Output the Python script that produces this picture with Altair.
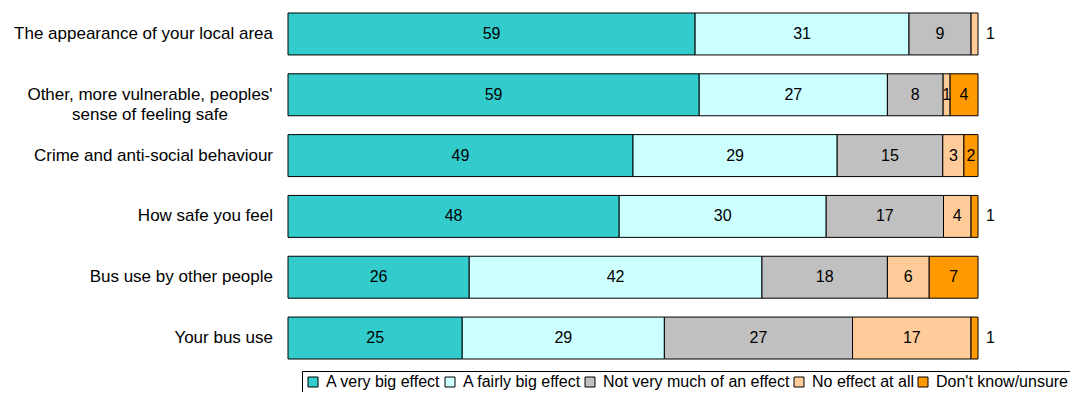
import altair as alt
import pandas as pd

categories = [
    "The appearance of your local area",
    "Other, more vulnerable, peoples'\nsense of feeling safe",
    "Crime and anti-social behaviour",
    "How safe you feel",
    "Bus use by other people",
    "Your bus use",
]
series = ["A very big effect", "A fairly big effect", "Not very much of an effect",
          "No effect at all", "Don't know/unsure"]
colors = ["#33CCCC", "#CCFFFF", "#C0C0C0", "#FFCC99", "#FF9900"]

very_big = [59, 59, 49, 48, 26, 25]
fairly_big = [31, 27, 29, 30, 42, 29]
not_much = [9, 8, 15, 17, 18, 27]
no_effect = [1, 1, 3, 4, 6, 17]
dont_know = [0, 4, 2, 1, 7, 1]
# (row index, series) whose label sits to the right of the bar
outside_labels = [(0, "No effect at all"), (3, "Don't know/unsure"), (5, "Don't know/unsure")]

values = [very_big, fairly_big, not_much, no_effect, dont_know]
rows = []
for si, (s, vals) in enumerate(zip(series, values)):
    for ci, (c, v) in enumerate(zip(categories, vals)):
        rows.append({"cat": c, "series": s, "sidx": si, "value": v,
                     "outside": (ci, s) in outside_labels})
df = pd.DataFrame(rows)
labels_df = pd.DataFrame({"cat": categories,
                          "two": ["\n" in c for c in categories]})

FONT = "Liberation Sans"

yenc = alt.Y("cat:N", sort=categories,
             scale=alt.Scale(domain=categories, paddingInner=0.31, paddingOuter=0.082),
             axis=None)
xscale = alt.Scale(domain=[0, 1], nice=False)

base = alt.Chart(df)

bars = base.mark_bar(stroke="black", strokeWidth=1).encode(
    x=alt.X("value:Q", stack="normalize", scale=xscale, axis=None),
    y=yenc,
    color=alt.Color("series:N", scale=alt.Scale(domain=series, range=colors),
                    legend=alt.Legend(
                        title=None, orient="none", legendX=14, legendY=363,
                        direction="horizontal", symbolType="square", symbolSize=100,
                        symbolStrokeColor="black", symbolStrokeWidth=1,
                        labelFont=FONT, labelFontSize=16, labelColor="black",
                        labelLimit=0, labelOffset=5, columnPadding=1, padding=3,
                        strokeColor="black", fillColor="white")),
    order=alt.Order("sidx:Q", sort="ascending"),
).transform_filter("datum.value > 0")

stacked = base.transform_filter("datum.value > 0").transform_stack(
    stack="value", groupby=["cat"], as_=["x0", "x1"], offset="normalize",
    sort=[alt.SortField("sidx", order="ascending")],
).transform_calculate(mid="(datum.x0 + datum.x1) / 2")

inside = stacked.transform_filter("!datum.outside").mark_text(
    font=FONT, fontSize=16, color="black", baseline="middle").encode(
    x=alt.X("mid:Q", scale=xscale), y=yenc, text=alt.Text("value:Q"))

outside = stacked.transform_filter("datum.outside").mark_text(
    font=FONT, fontSize=16, color="black", align="left", dx=8, baseline="middle").encode(
    x=alt.datum(1), y=yenc, text=alt.Text("value:Q"))

lab = alt.Chart(labels_df)
lab1 = lab.transform_filter("!datum.two").mark_text(
    font=FONT, fontSize=17, color="black", align="right", baseline="middle").encode(
    x=alt.value(-15), y=yenc, text="cat:N")
lab2 = lab.transform_filter("datum.two").mark_text(
    font=FONT, fontSize=17, color="black", align="center", baseline="middle",
    lineBreak="\n", lineHeight=20).encode(
    x=alt.value(-138), y=yenc, text="cat:N")

chart = alt.layer(bars, inside, outside, lab1, lab2).properties(
    width=690, height=356,
    autosize=alt.AutoSizeParams(type="none"),
    padding={"left": 280, "top": 0, "right": 92, "bottom": 28},
    background="white",
).configure_view(stroke=None)

chart.save("out.html", embed_options={"renderer": "svg", "actions": False})
